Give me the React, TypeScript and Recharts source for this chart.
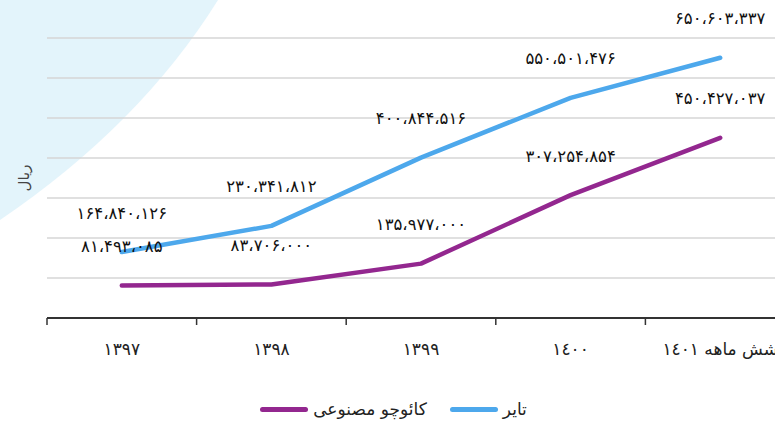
import React from 'react';
import { LineChart, Line, XAxis, YAxis, CartesianGrid, Legend, LabelList } from 'recharts';

// categories (last one is the first half of 1401)
const years = ['١٣٩٧', '١٣٩٨', '١٣٩٩', '١٤٠٠', 'شش ماهه ١٤٠١'];
// rial values
const tireValues = [164840126, 230341812, 400844516, 550501476, 650603337];
const rubberValues = [81493085, 83706000, 135977000, 307254854, 450427037];
const yTicks = [0, 100000000, 200000000, 300000000, 400000000, 500000000, 600000000, 700000000];

const TIRE_NAME = 'تایر';
const RUBBER_NAME = 'کائوچو مصنوعی';
const UNIT = 'ریال';

const TIRE_COLOR = '#4da8ec';
const RUBBER_COLOR = '#93278f';
const FONT = '"DejaVu Sans", sans-serif';

const CHART_W = 810;
const CHART_H = 424;
const MARGIN = { top: 38, right: 15, left: 0, bottom: 0 };
const Y_W = 47;
const STEP = (CHART_W - MARGIN.left - MARGIN.right - Y_W) / years.length;

const data = years.map((year, i) => ({
    year,
    tire: tireValues[i],
    rubber: rubberValues[i],
}));

const faDigits = '۰۱۲۳۴۵۶۷۸۹';
const fmt = (v: number) =>
    v.toLocaleString('en-US').replace(/\d/g, (d) => faDigits[+d]).replace(/,/g, '،');

function XTick({ x, y, payload }: any) {
    return (
        <g>
            <line x1={x - STEP / 2} x2={x - STEP / 2} y1={y - 7} y2={y} stroke="#333" strokeWidth={1.5} />
            <text
                x={x}
                y={y + 24}
                textAnchor="middle"
                dominantBaseline="central"
                fontSize={17}
                fontFamily={FONT}
                fill="#222"
            >
                {payload.value}
            </text>
        </g>
    );
}

const valueLabel = (props: any) => {
    const { x, y, value } = props;
    return (
        <text
            x={x}
            y={y - 39}
            textAnchor="middle"
            dominantBaseline="central"
            fontSize={16.5}
            fontFamily={FONT}
            fill="#111"
        >
            {fmt(value)}
        </text>
    );
};

const legendItems = [
    { name: RUBBER_NAME, color: RUBBER_COLOR },
    { name: TIRE_NAME, color: TIRE_COLOR },
];

const renderLegend = () => (
    <div
        style={{
            display: 'flex',
            justifyContent: 'center',
            alignItems: 'center',
            height: 30,
            gap: 23,
            paddingRight: 8,
            fontFamily: FONT,
            fontSize: 17,
            color: '#222',
        }}
    >
        {legendItems.map((item) => (
            <div key={item.name} style={{ display: 'flex', alignItems: 'center', gap: 5 }}>
                <span
                    style={{
                        display: 'inline-block',
                        width: 48,
                        height: 5,
                        borderRadius: 3,
                        background: item.color,
                    }}
                />
                <span>{item.name}</span>
            </div>
        ))}
    </div>
);

export default function App() {
    return (
        <div
            style={{
                position: 'fixed',
                left: 0,
                top: 0,
                width: 775,
                height: 424,
                overflow: 'hidden',
                background: '#fff',
            }}
        >
            <svg width={775} height={424} style={{ position: 'absolute', left: 0, top: 0 }}>
                <path d="M0,0 L218,0 Q140,125 0,220 Z" fill="#e3f4fb" />
            </svg>
            <div style={{ position: 'absolute', left: 0, top: 0 }}>
                <LineChart width={CHART_W} height={CHART_H} data={data} margin={MARGIN}>
                    <CartesianGrid vertical={false} stroke="#d6d6d6" strokeWidth={1.5} />
                    <XAxis
                        dataKey="year"
                        padding={{ left: STEP / 2, right: STEP / 2 }}
                        axisLine={{ stroke: '#333', strokeWidth: 2 }}
                        tickLine={false}
                        tickSize={7}
                        tickMargin={0}
                        height={76}
                        interval={0}
                        tick={<XTick />}
                    />
                    <YAxis
                        width={Y_W}
                        domain={[0, 700000000]}
                        ticks={yTicks}
                        tick={() => <g />}
                        axisLine={false}
                        tickLine={false}
                        label={{
                            value: UNIT,
                            angle: -90,
                            position: 'center',
                            style: { fontFamily: FONT, fontSize: 15, fill: '#444' },
                        }}
                    />
                    <Legend verticalAlign="bottom" content={renderLegend} />
                    <Line
                        name={RUBBER_NAME}
                        dataKey="rubber"
                        stroke={RUBBER_COLOR}
                        strokeWidth={4.5}
                        strokeLinecap="round"
                        strokeLinejoin="round"
                        dot={false}
                        activeDot={false}
                        isAnimationActive={false}
                    >
                        <LabelList dataKey="rubber" content={valueLabel} />
                    </Line>
                    <Line
                        name={TIRE_NAME}
                        dataKey="tire"
                        stroke={TIRE_COLOR}
                        strokeWidth={4.5}
                        strokeLinecap="round"
                        strokeLinejoin="round"
                        dot={false}
                        activeDot={false}
                        isAnimationActive={false}
                    >
                        <LabelList dataKey="tire" content={valueLabel} />
                    </Line>
                </LineChart>
            </div>
        </div>
    );
}
